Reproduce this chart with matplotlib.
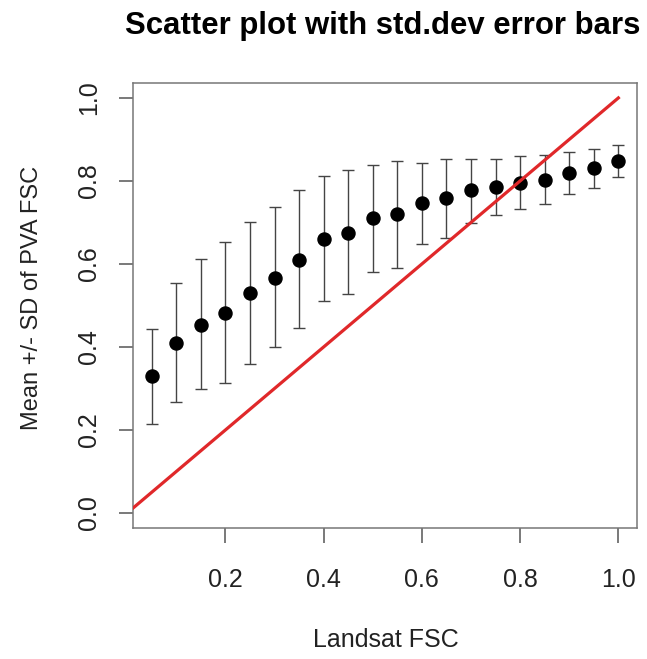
import matplotlib.pyplot as plt
import numpy as np

plt.rcParams['font.family'] = ['Liberation Sans', 'DejaVu Sans']

# Landsat FSC bins and PVA FSC mean / mean +- SD
landsat_fsc = [0.05, 0.10, 0.15, 0.20, 0.25, 0.30, 0.35, 0.40, 0.45, 0.50,
               0.55, 0.60, 0.65, 0.70, 0.75, 0.80, 0.85, 0.90, 0.95, 1.00]
pva_mean = [0.329, 0.409, 0.454, 0.483, 0.531, 0.567, 0.610, 0.659, 0.675, 0.710,
            0.720, 0.746, 0.759, 0.777, 0.785, 0.795, 0.803, 0.818, 0.830, 0.847]
pva_upper = [0.443, 0.554, 0.611, 0.652, 0.702, 0.737, 0.778, 0.811, 0.826, 0.838,
             0.849, 0.843, 0.854, 0.854, 0.853, 0.859, 0.862, 0.869, 0.877, 0.886]
pva_lower = [0.214, 0.267, 0.298, 0.314, 0.359, 0.399, 0.445, 0.510, 0.528, 0.580,
             0.590, 0.649, 0.662, 0.699, 0.718, 0.732, 0.745, 0.769, 0.783, 0.810]

# 1:1 reference line
one_to_one = [0.0, 1.0]

x = np.array(landsat_fsc)
m = np.array(pva_mean)
yerr = np.vstack([m - np.array(pva_lower), np.array(pva_upper) - m])

fig = plt.figure(figsize=(6.47, 6.59), dpi=100)
ax = fig.add_axes([0.2056, 0.1988, 0.779, 0.6753])

ax.errorbar(x, m, yerr=yerr, fmt='none', ecolor='#444444', elinewidth=1.0,
            capsize=4.6, capthick=1.0, zorder=2)
ax.plot(x, m, 'o', color='black', markersize=9.4, zorder=3)
ax.plot(one_to_one, one_to_one, color='#e0282a', linewidth=2.3, zorder=4)

ax.set_xlim(0.012, 1.038)
ax.set_ylim(-0.036, 1.036)
ax.set_xticks([0.2, 0.4, 0.6, 0.8, 1.0])
ax.set_xticklabels(['0.2', '0.4', '0.6', '0.8', '1.0'])
ax.set_yticks([0.0, 0.2, 0.4, 0.6, 0.8, 1.0])
ax.set_yticklabels(['0.0', '0.2', '0.4', '0.6', '0.8', '1.0'], rotation=90, va='center')

for s in ax.spines.values():
    s.set_color('#777777')
    s.set_linewidth(1.1)
ax.tick_params(axis='both', width=1.1, color='#555555', labelsize=18,
               labelcolor='#222222')
ax.tick_params(axis='x', length=11, pad=17.5)
ax.tick_params(axis='y', length=10, pad=13)

fig.text(386 / 647, 1 - 640 / 659, 'Landsat FSC', ha='center', va='center',
         fontsize=18, color='#222222')
fig.text(32 / 647, 1 - 298 / 659, 'Mean +/- SD of PVA FSC', ha='center', va='center',
         rotation=90, fontsize=17, color='#222222')
fig.text(383 / 647, 1 - 26 / 659, 'Scatter plot with std.dev error bars', ha='center',
         va='center', fontsize=22.4, fontweight='bold')

fig.savefig('out.png', dpi=100)
